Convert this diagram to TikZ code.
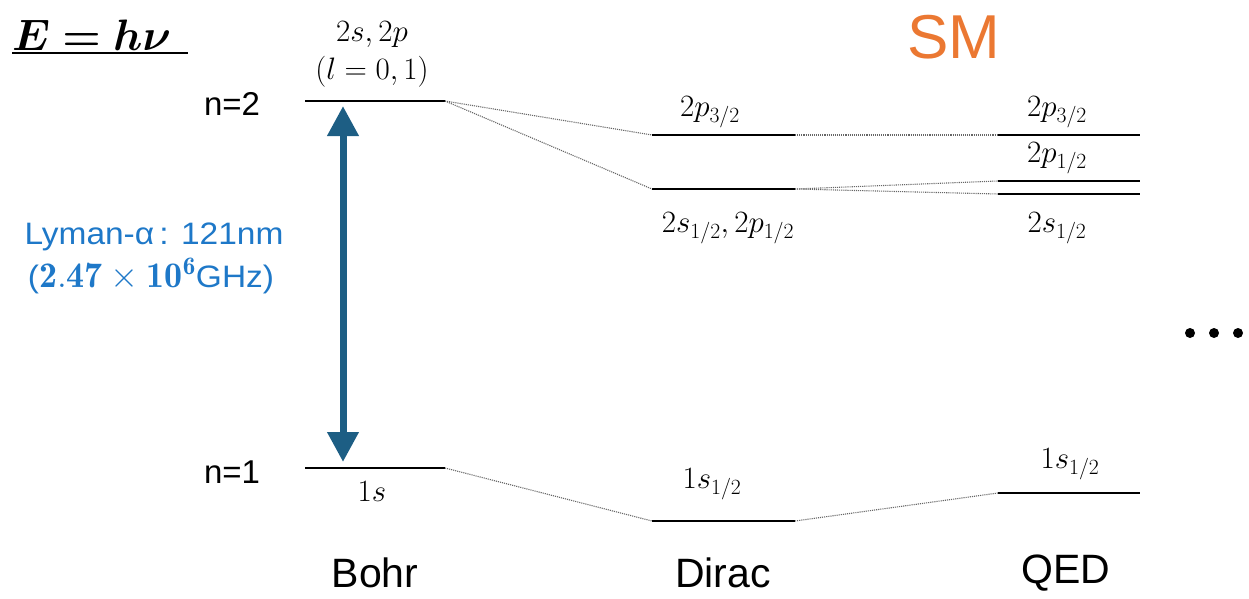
\RequirePackage{fix-cm}
\documentclass[tikz,border=0pt]{standalone}
\usepackage{amsmath,bm}
\usepackage{fontspec}
\setsansfont{Liberation Sans}
\newfontfamily\lyfont[FakeStretch=1.08]{Liberation Sans}
\usetikzlibrary{arrows.meta}
\definecolor{arrowblue}{RGB}{29,94,132}
\definecolor{lymanblue}{RGB}{30,120,200}
\definecolor{smorange}{RGB}{235,120,50}
\tikzset{
  level/.style={line width=2.2pt, black},
  link/.style={gray!80!black, densely dotted, line width=1.1pt},
  mlabel/.style={font=\fontsize{31}{36}\selectfont, inner sep=0pt},
  nlabel/.style={font=\sffamily\fontsize{33}{38}\selectfont, inner sep=0pt},
  tlabel/.style={font=\sffamily\fontsize{41}{47}\selectfont, inner sep=0pt},
}
\begin{document}
\begin{tikzpicture}[x=1pt,y=-1pt]
\useasboundingbox (0,0) rectangle (1249,599);
% level coordinates
\coordinate (b2l) at (305,101); \coordinate (b2r) at (445,101);
\coordinate (b1l) at (305,468); \coordinate (b1r) at (445,468);
\coordinate (d2pl) at (652,135); \coordinate (d2pr) at (795,135);
\coordinate (d2sl) at (652,189); \coordinate (d2sr) at (795,189);
\coordinate (d1l) at (652,521); \coordinate (d1r) at (795,521);
\coordinate (q2pl) at (998,135); \coordinate (q2pr) at (1140,135);
\coordinate (q2ml) at (998,181); \coordinate (q2mr) at (1140,181);
\coordinate (q2sl) at (998,194); \coordinate (q2sr) at (1140,194);
\coordinate (q1l) at (998,493); \coordinate (q1r) at (1140,493);
% levels
\foreach \a/\b in {b2l/b2r,b1l/b1r,d2pl/d2pr,d2sl/d2sr,d1l/d1r,q2pl/q2pr,q2ml/q2mr,q2sl/q2sr,q1l/q1r}
  \draw[level] (\a) -- (\b);
% connectors
\draw[link] (b2r) -- (d2pl);
\draw[link] (b2r) -- (d2sl);
\draw[link] (d2pr) -- (q2pl);
\draw[link] (d2sr) -- (q2ml);
\draw[link] (d2sr) -- (q2sl);
\draw[link] (b1r) -- (d1l);
\draw[link] (d1r) -- (q1l);
% arrow
\coordinate (atop) at (343,106);
\coordinate (abot) at (343,462);
\draw[arrowblue, line width=7pt, {Triangle[width=30pt,length=30pt]}-{Triangle[width=30pt,length=30pt]}] (atop) -- (abot);
% labels
\node[mlabel] (l2s2p) at (372,35) {$2s,2p$};
\node[mlabel] (lell) at (372,72) {$(l=0,1)$};
\node[mlabel] (l1s) at (372,492) {$1s$};
\node[mlabel] (ld2p) at (710,112) {$2p_{3/2}$};
\node[mlabel] (ld2s) at (728,228) {$2s_{1/2},2p_{1/2}$};
\node[mlabel] (ld1s) at (712,484) {$1s_{1/2}$};
\node[mlabel] (lq2p) at (1057,112) {$2p_{3/2}$};
\node[mlabel] (lq2m) at (1057,158) {$2p_{1/2}$};
\node[mlabel] (lq2s) at (1057,228) {$2s_{1/2}$};
\node[mlabel] (lq1s) at (1070,464) {$1s_{1/2}$};
\node[nlabel] (n2) at (232,104) {n=2};
\node[nlabel] (n1) at (232,472) {n=1};
\node[tlabel] (bohr) at (375,573) {Bohr};
\node[tlabel] (dirac) at (723,573) {Dirac};
\node[tlabel] (qed) at (1066,573) {QED};
\node[font=\fontsize{44}{50}\selectfont, inner sep=0pt, anchor=west] (ehv) at (12,35) {$\bm{E=h\nu}$};
\draw[line width=2.2pt] (12,53) -- (188,53);
\node[font=\lyfont\fontsize{31}{36}\selectfont, text=lymanblue, inner sep=0pt] (ly1) at (154,237) {Lyman-α\,: 121nm};
\node[font=\lyfont\fontsize{31}{36}\selectfont, text=lymanblue, inner sep=0pt] (ly2) at (151,276) {({\fontsize{36}{40}\selectfont$\mathbf{2.47\times10^6}$}GHz)};
\node[font=\sffamily\fontsize{62}{68}\selectfont, text=smorange, inner sep=0pt] (sm) at (954,37) {SM};
\foreach \x in {1190,1214,1238} \fill (\x,333) circle (5);
\end{tikzpicture}
\end{document}
